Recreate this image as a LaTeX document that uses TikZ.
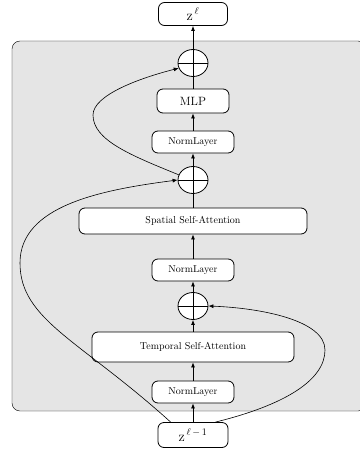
\documentclass[tikz,border=0pt]{standalone}
\usepackage{amsmath}
\usetikzlibrary{arrows.meta,shapes.geometric}

\begin{document}
\begin{tikzpicture}[
	x=1pt, y=-1pt,
	block/.style={draw=black, thick, fill=white, rounded corners=6pt, minimum height=24pt, inner sep=2pt},
	normbox/.style={block, minimum width=82pt, minimum height=22pt},
	oplus/.style={draw=black, thick, fill=white, ellipse, minimum width=30pt, minimum height=27pt, inner sep=0pt,
		path picture={\draw[thick] (path picture bounding box.west) -- (path picture bounding box.east)
			(path picture bounding box.north) -- (path picture bounding box.south);}},
	flow/.style={thick, -{Latex[length=5pt,width=4pt]}},
	skip/.style={semithick, -{Latex[length=5pt,width=4pt]}}
	]
	
	\useasboundingbox (0,0) rectangle (359,452);
	
	% --- sfondo del blocco ---
	\draw[fill=black!10, rounded corners=8pt] (12,41) rectangle (366,411);
	
	% --- nodi ---
	\node[block, minimum width=70pt, minimum height=25pt] (zin) at (193,435) {\Large$\mathrm{z}^{\,\ell\,-\,1}$};
	\node[normbox] (norm3) at (193,392) {NormLayer};
	\node[block, minimum width=202pt, minimum height=30pt] (tsa) at (193,347) {Temporal Self-Attention};
	\node[oplus] (add3) at (193,306) {};
	\node[normbox] (norm2) at (193,270) {NormLayer};
	\node[block, minimum width=228pt, minimum height=26pt] (ssa) at (193,221) {Spatial Self-Attention};
	\node[oplus] (add2) at (193,180) {};
	\node[normbox] (norm1) at (193,142) {NormLayer};
	\node[block, minimum width=72pt] (mlp) at (193,101) {\large MLP};
	\node[oplus] (add1) at (193,63) {};
	\node[block, minimum width=69pt, minimum height=23pt] (zout) at (193,14) {\Large$\mathrm{z}^{\,\ell}$};
	
	% --- flusso principale ---
	\draw[flow] (zin) -- (norm3);
	\draw[flow] (norm3) -- (tsa);
	\draw[flow] (tsa) -- (add3);
	\draw[flow] (add3) -- (norm2);
	\draw[flow] (norm2) -- (ssa);
	\draw[thick] (ssa) -- (add2);
	\draw[flow] (add2) -- (norm1);
	\draw[flow] (norm1) -- (mlp);
	\draw[thick] (mlp) -- (add1);
	\draw[flow] (add1) -- (zout);
	
	% --- connessioni residue ---
	\draw[skip] (zin.150) .. controls (80,340) and (20,320) .. (20,263)
		.. controls (20,206) and (100,190) .. (add2.west);
	\draw[skip] (zin.30) .. controls (285,405) and (325,380) .. (325,350)
		.. controls (325,320) and (260,308) .. (add3.east);
	\draw[skip] (add2.160) .. controls (130,155) and (93,140) .. (93,115)
		.. controls (93,95) and (140,78) .. (add1.200);

\end{tikzpicture}
\end{document}
